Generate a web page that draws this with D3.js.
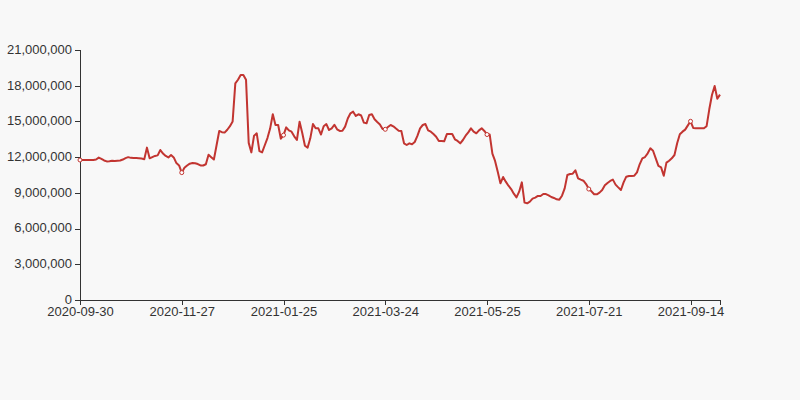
<!DOCTYPE html>
<html>
<head>
<meta charset="utf-8">
<script src="https://cdn.jsdelivr.net/npm/d3@7"></script>
<style>
  html, body { margin: 0; padding: 0; background: #f8f8f8; }
  svg { display: block; font-family: "Liberation Sans", Arial, sans-serif; }
</style>
</head>
<body>
<div id="chart"></div>
<script>
// tick labels shown on the category axis, one every labelInterval points
var tickLabels = ["2020-09-30", "2020-11-27", "2021-01-25", "2021-03-24",
                  "2021-05-25", "2021-07-21", "2021-09-14"];
var labelInterval = 38;

// series values, one per trading day
var values = [
  11.76, 11.76, 11.76, 11.76, 11.76, 11.76, 11.80, 11.96, 11.85, 11.72,
  11.64, 11.66, 11.70, 11.68, 11.70, 11.72, 11.80, 11.92, 12.00, 11.94,
  11.92, 11.92, 11.90, 11.88, 11.82, 12.80, 11.90, 12.00, 12.10, 12.15,
  12.60, 12.30, 12.10, 11.98, 12.18, 11.98, 11.50, 11.30, 10.70, 11.10,
  11.30, 11.45, 11.50, 11.48, 11.42, 11.30, 11.30, 11.40, 12.20, 12.00,
  11.80, 13.00, 14.20, 14.10, 14.06, 14.30, 14.60, 15.00, 18.20, 18.50,
  18.90, 18.90, 18.50, 13.20, 12.40, 13.80, 14.00, 12.50, 12.40, 13.00,
  13.60, 14.40, 15.60, 14.70, 14.70, 13.55, 13.85, 14.50, 14.25, 14.14,
  13.75, 13.44, 14.98, 14.03, 12.96, 12.80, 13.58, 14.78, 14.42, 14.42,
  13.90, 14.60, 14.78, 14.28, 14.42, 14.72, 14.34, 14.20, 14.22, 14.56,
  15.25, 15.68, 15.82, 15.46, 15.60, 15.50, 14.90, 14.84, 15.54, 15.60,
  15.18, 14.95, 14.75, 14.36, 14.34, 14.53, 14.70, 14.59, 14.40, 14.22,
  14.20, 13.16, 13.02, 13.16, 13.08, 13.27, 13.78, 14.42, 14.70, 14.78,
  14.25, 14.14, 13.94, 13.72, 13.36, 13.36, 13.33, 13.94, 13.94, 13.94,
  13.50, 13.36, 13.16, 13.44, 13.80, 14.08, 14.42, 14.14, 14.00, 14.25,
  14.42, 14.20, 13.90, 13.90, 12.30, 11.68, 10.78, 9.80, 10.33, 9.94,
  9.60, 9.32, 8.93, 8.62, 9.10, 9.88, 8.18, 8.12, 8.26, 8.51,
  8.60, 8.74, 8.74, 8.90, 8.90, 8.79, 8.65, 8.57, 8.46, 8.43,
  8.76, 9.38, 10.50, 10.58, 10.61, 10.89, 10.22, 10.11, 10.02, 9.74,
  9.32, 9.13, 8.88, 8.88, 9.02, 9.24, 9.63, 9.83, 10.00, 10.11,
  9.69, 9.46, 9.24, 9.88, 10.36, 10.42, 10.42, 10.44, 10.72, 11.40,
  11.90, 12.01, 12.32, 12.74, 12.54, 11.90, 11.26, 11.14, 10.44, 11.54,
  11.70, 11.90, 12.18, 13.16, 13.92, 14.14, 14.31, 14.67, 15.01, 14.45,
  14.42, 14.42, 14.42, 14.42, 14.60, 16.02, 17.22, 17.98, 16.90, 17.25
].map(function (d) { return d * 1e6; });

var yTicks = [0, 3e6, 6e6, 9e6, 12e6, 15e6, 18e6, 21e6];

var width = 800, height = 400;
var margin = { left: 80, right: 80, top: 50, bottom: 100 };

var svg = d3.select("#chart").append("svg")
    .attr("width", width)
    .attr("height", height);

svg.append("rect")
    .attr("width", width)
    .attr("height", height)
    .style("fill", "#f8f8f8");

var x = d3.scaleLinear()
    .domain([0, values.length - 1])
    .range([margin.left, width - margin.right]);

var y = d3.scaleLinear()
    .domain([0, 21e6])
    .range([height - margin.bottom, margin.top]);

// y axis
var yAxis = svg.append("g")
    .attr("class", "y-axis")
    .attr("transform", "translate(" + margin.left + ",0)")
    .call(d3.axisLeft(y).tickValues(yTicks).tickFormat(d3.format(",")).tickSize(5).tickPadding(3));
yAxis.selectAll("text").attr("dy", "0.26em");

// x axis, ticks every labelInterval points plus one at the end
var tickIdx = tickLabels.map(function (d, i) { return i * labelInterval; });
var xAxis = svg.append("g")
    .attr("class", "x-axis")
    .attr("transform", "translate(0," + (height - margin.bottom) + ")")
    .call(d3.axisBottom(x)
        .tickValues(tickIdx.concat([values.length - 1]))
        .tickFormat(function (d, i) { return tickLabels[i] || ""; })
        .tickSize(5).tickSizeOuter(0).tickPadding(2));

svg.selectAll(".y-axis, .x-axis").selectAll("path, line")
    .style("stroke", "#333")
    .style("shape-rendering", "crispEdges");
svg.selectAll(".y-axis, .x-axis").selectAll("text")
    .style("fill", "#333")
    .style("font-size", "13px")
    .style("font-family", "\"Liberation Sans\", Arial, sans-serif");

// the series line
var line = d3.line()
    .x(function (d, i) { return x(i); })
    .y(function (d) { return y(d); });

svg.append("path")
    .datum(values)
    .attr("d", line)
    .style("fill", "none")
    .style("stroke", "#c23531")
    .style("stroke-width", 2)
    .style("stroke-linejoin", "round");

// hollow symbols only on labelled points
svg.append("g").selectAll("circle")
    .data(tickIdx)
    .enter().append("circle")
    .attr("cx", function (d) { return x(d); })
    .attr("cy", function (d) { return y(values[d]); })
    .attr("r", 2)
    .style("fill", "#fff")
    .style("stroke", "#c23531")
    .style("stroke-width", 1);
</script>
</body>
</html>
